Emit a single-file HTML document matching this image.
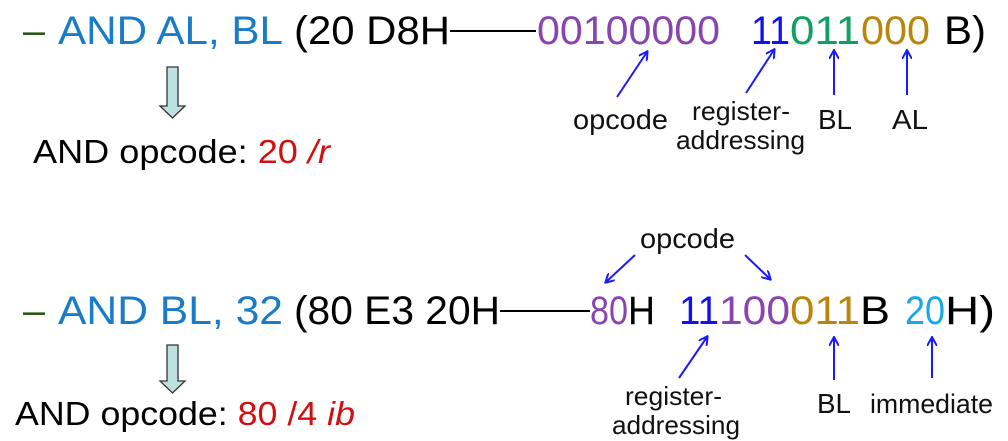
<!DOCTYPE html>
<html><head><meta charset="utf-8"><style>
html,body{margin:0;padding:0;background:#fff;width:1008px;height:441px;overflow:hidden}
svg text{font-family:"Liberation Sans",sans-serif}
</style></head><body>
<svg width="1008" height="441" viewBox="0 0 1008 441">
<defs><marker id="a" markerWidth="10" markerHeight="10" refX="8" refY="5" orient="auto" markerUnits="userSpaceOnUse"><path d="M0,0 L9,5 L0,10" fill="none" stroke="#1a1aff" stroke-width="2"/></marker></defs>
<g font-size="40">
<text x="23" y="44" fill="#2d5a1a" textLength="22" lengthAdjust="spacingAndGlyphs">–</text>
<text x="58" y="44" fill="#1a7cc9" textLength="225" lengthAdjust="spacingAndGlyphs">AND AL, BL</text>
<text x="294" y="44" fill="#000" textLength="156" lengthAdjust="spacingAndGlyphs">(20 D8H</text>
<line x1="450" y1="31" x2="536" y2="31" stroke="#000" stroke-width="2"/>
<text x="537" y="44" fill="#8a44b0" textLength="183" lengthAdjust="spacingAndGlyphs">00100000</text>
<text x="751" y="44" fill="#1010f0" textLength="39" lengthAdjust="spacingAndGlyphs">11</text>
<text x="790" y="44" fill="#10a060" textLength="70" lengthAdjust="spacingAndGlyphs">011</text>
<text x="861" y="44" fill="#b8860b" textLength="69" lengthAdjust="spacingAndGlyphs">000</text>
<text x="944" y="44" fill="#000" textLength="42" lengthAdjust="spacingAndGlyphs">B)</text>

<text x="23" y="324" fill="#2d5a1a" textLength="22" lengthAdjust="spacingAndGlyphs">–</text>
<text x="58" y="324" fill="#1a7cc9" textLength="225" lengthAdjust="spacingAndGlyphs">AND BL, 32</text>
<text x="294" y="324" fill="#000" textLength="206" lengthAdjust="spacingAndGlyphs">(80 E3 20H</text>
<line x1="500" y1="311" x2="590" y2="311" stroke="#000" stroke-width="2"/>
<text x="590" y="324" fill="#8a44b0" textLength="38" lengthAdjust="spacingAndGlyphs">80</text>
<text x="628" y="324" fill="#000" textLength="27" lengthAdjust="spacingAndGlyphs">H</text>
<text x="679" y="324" fill="#1010f0" textLength="40" lengthAdjust="spacingAndGlyphs">11</text>
<text x="719" y="324" fill="#8a44b0" textLength="71" lengthAdjust="spacingAndGlyphs">100</text>
<text x="790" y="324" fill="#b8860b" textLength="70" lengthAdjust="spacingAndGlyphs">011</text>
<text x="860" y="324" fill="#000" textLength="30" lengthAdjust="spacingAndGlyphs">B</text>
<text x="905" y="324" fill="#18a8e8" textLength="40" lengthAdjust="spacingAndGlyphs">20</text>
<text x="945" y="324" fill="#000" textLength="50" lengthAdjust="spacingAndGlyphs">H)</text>
</g>
<g font-size="33">
<text x="33" y="163" fill="#000" textLength="297" lengthAdjust="spacingAndGlyphs">AND opcode: <tspan fill="#d01010">20 <tspan font-style="italic">/r</tspan></tspan></text>
<text x="15" y="425" fill="#000" textLength="340" lengthAdjust="spacingAndGlyphs">AND opcode: <tspan fill="#d01010">80 /4 <tspan font-style="italic">ib</tspan></tspan></text>
</g>
<g font-size="28" fill="#111">
<text x="573" y="129" textLength="95" lengthAdjust="spacingAndGlyphs">opcode</text>
<text x="692" y="120" font-size="26" textLength="98" lengthAdjust="spacingAndGlyphs">register-</text>
<text x="676" y="149" font-size="26" textLength="129" lengthAdjust="spacingAndGlyphs">addressing</text>
<text x="818" y="129" textLength="34" lengthAdjust="spacingAndGlyphs">BL</text>
<text x="892" y="129" textLength="36" lengthAdjust="spacingAndGlyphs">AL</text>
<text x="640" y="248" textLength="95" lengthAdjust="spacingAndGlyphs">opcode</text>
<text x="625" y="405" font-size="26" textLength="97" lengthAdjust="spacingAndGlyphs">register-</text>
<text x="612" y="434" font-size="26" textLength="128" lengthAdjust="spacingAndGlyphs">addressing</text>
<text x="817" y="413" textLength="34" lengthAdjust="spacingAndGlyphs">BL</text>
<text x="870" y="413" font-size="27" textLength="123" lengthAdjust="spacingAndGlyphs">immediate</text>
</g>
<g stroke="#1a1aff" stroke-width="2" marker-end="url(#a)">
<line x1="617" y1="97" x2="647" y2="52"/>
<line x1="746" y1="93" x2="774" y2="50"/>
<line x1="834" y1="95" x2="834" y2="51"/>
<line x1="907" y1="95" x2="907" y2="51"/>
<line x1="635" y1="255" x2="606" y2="282"/>
<line x1="745" y1="255" x2="770" y2="279"/>
<line x1="679" y1="378" x2="707" y2="337"/>
<line x1="834" y1="380" x2="834" y2="338"/>
<line x1="932" y1="378" x2="932" y2="338"/>
</g>
<g fill="#bfe0e0" stroke="#333" stroke-width="1.3">
<path d="M167,67 H178 V106 H185 L172.5,118 L160,106 H167 Z"/>
<path d="M167,345 H178 V381 H185 L172.5,393 L160,381 H167 Z"/>
</g>
</svg>
</body></html>
